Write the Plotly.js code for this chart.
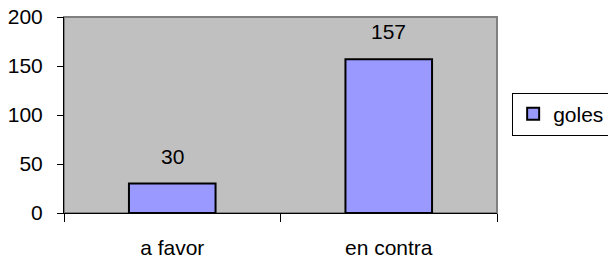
<!DOCTYPE html>
<html>
<head>
<meta charset="utf-8">
<script src="https://cdn.plot.ly/plotly-3.0.1.min.js"></script>
<style>html,body{margin:0;padding:0;background:#fff;}#chart{width:608px;height:260px;}</style>
</head>
<body>
<div id="chart"></div>
<script>
const categories = ["a favor", "en contra"];
const goles = [30, 157];
const seriesName = "goles";
const yTicks = [0, 50, 100, 150, 200];

const FONT = "Liberation Sans, Arial, sans-serif";

const trace = {
  type: "bar",
  x: categories,
  y: goles,
  name: seriesName,
  marker: {color: "#9999FF", line: {color: "#000000", width: 2}},
  showlegend: true,
  hoverinfo: "none"
};

const annotations = categories.map((c, i) => ({
  x: c, y: goles[i], xref: "x", yref: "y",
  text: String(goles[i]), showarrow: false,
  yanchor: "bottom", yshift: 14,
  font: {family: FONT, size: 21, color: "#000"}
}));

const layout = {
  width: 608, height: 260,
  margin: {l: 64, r: 111, t: 17, b: 47, pad: 0, autoexpand: false},
  paper_bgcolor: "#ffffff",
  plot_bgcolor: "#C0C0C0",
  bargap: 0.6,
  font: {family: FONT, size: 21, color: "#000"},
  xaxis: {
    type: "category",
    range: [-0.5, 1.5],
    showline: true, linecolor: "#000", linewidth: 1,
    ticks: "outside", tickson: "boundaries", ticklen: 8, tickcolor: "#000", tickwidth: 1,
    showgrid: false, zeroline: false,
    ticklabelstandoff: 16,
    tickfont: {family: FONT, size: 21, color: "#000"}
  },
  yaxis: {
    range: [0, 200],
    tickvals: yTicks,
    ticktext: yTicks.map(String),
    showline: true, linecolor: "#000", linewidth: 1,
    ticks: "outside", ticklen: 6, tickcolor: "#000", tickwidth: 1,
    showgrid: false, zeroline: false,
    ticklabelstandoff: 10,
    tickfont: {family: FONT, size: 21, color: "#000"}
  },
  shapes: [{
    type: "rect", xref: "paper", yref: "paper", x0: 0, x1: 1, y0: 0, y1: 1,
    line: {color: "#808080", width: 2}, layer: "below"
  }],
  legend: {
    x: 1.035, xanchor: "left", y: 0.505, yanchor: "middle",
    bgcolor: "#ffffff", bordercolor: "#000", borderwidth: 1,
    font: {family: FONT, size: 21, color: "#000"},
    itemwidth: 30
  },
  annotations: annotations
};

Plotly.newPlot("chart", [trace], layout, {staticPlot: true, displayModeBar: false});
</script>
</body>
</html>
